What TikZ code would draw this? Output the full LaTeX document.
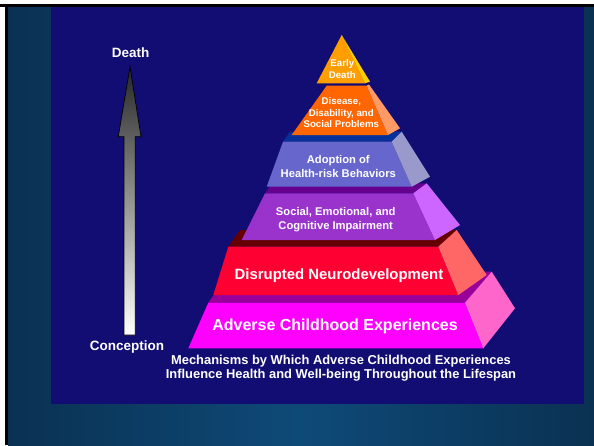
\documentclass[tikz,border=0pt]{standalone}
\usepackage{fontspec}
\setmainfont{Liberation Sans}
\definecolor{tealA}{HTML}{0A3152}
\definecolor{tealB}{HTML}{0E4A78}
\definecolor{navybg}{HTML}{120D72}
\definecolor{edF}{HTML}{FF9E00}
\definecolor{edS}{HTML}{FFCC00}
\definecolor{diF}{HTML}{FF6600}
\definecolor{diS}{HTML}{FF9966}
\definecolor{adT}{HTML}{08309A}
\definecolor{adF}{HTML}{6666CC}
\definecolor{adS}{HTML}{9999CC}
\definecolor{soT}{HTML}{66008F}
\definecolor{soF}{HTML}{9933CC}
\definecolor{soS}{HTML}{CC66FF}
\definecolor{drT}{HTML}{660000}
\definecolor{drF}{HTML}{FF0033}
\definecolor{drS}{HTML}{FF6666}
\definecolor{acT}{HTML}{990099}
\definecolor{acF}{HTML}{FF00FF}
\definecolor{acS}{HTML}{FF66CC}
\begin{document}
\begin{tikzpicture}[x=1pt,y=-1pt,
  txt/.style={text=white,font=\bfseries,align=center,inner sep=0pt}]
\useasboundingbox (0,0) rectangle (594,445);
\fill[white] (0,0) rectangle (594,445);
\shade[left color=tealA,right color=tealA,middle color=tealB] (8,7) rectangle (594,445);
\fill[black] (0,4) rectangle (594,7);
\fill[black] (5,4) rectangle (8,445);
\fill[navybg] (51,7) rectangle (584,404);

% arrow
\shade[top color=black!85, bottom color=white, draw=black, line width=0.7pt]
  (124,335) -- (124,136.7) -- (118.3,136.7) -- (130,66.7) -- (141,136.7)
  -- (135.3,136.7) -- (135.3,335) -- cycle;
\node[txt,font=\bfseries\fontsize{13.5}{15}\selectfont] (death) at (130.7,52.3) {Death};
\node[txt,font=\bfseries\fontsize{13.5}{15}\selectfont] (conc) at (127,346.7) {Conception};

% tier 6: Adverse Childhood Experiences
\fill[acT] (208.3,302.7) -- (465,302.7) -- (491.7,271.7) -- (230,271.7) -- cycle;
\fill[acF] (188.3,348.3) -- (483.3,348.3) -- (465,302.7) -- (208.3,302.7) -- cycle;
\fill[acS] (483.3,348.3) -- (515,308.3) -- (491.7,271.7) -- (465,302.7) -- cycle;
% tier 5: Disrupted Neurodevelopment
\fill[drT] (228.3,246.7) -- (438.3,246.7) -- (456.7,230) -- (240,230) -- cycle;
\fill[drF] (213.3,295) -- (458.3,295) -- (438.3,246.7) -- (228.3,246.7) -- cycle;
\fill[drS] (458.3,295) -- (486.7,275) -- (456.7,230) -- (438.3,246.7) -- cycle;
% tier 4: Social
\fill[soT] (265,193.3) -- (413.3,193.3) -- (426.7,183.3) -- (272,183.3) -- cycle;
\fill[soF] (241.7,240) -- (435,240) -- (413.3,193.3) -- (265,193.3) -- cycle;
\fill[soS] (435,240) -- (460,225) -- (426.7,183.3) -- (413.3,193.3) -- cycle;
% tier 3: Adoption
\fill[adT] (283,141.7) -- (391.7,141.7) -- (401.7,131.7) -- (290,131.7) -- cycle;
\fill[adF] (266.7,186.7) -- (411.7,186.7) -- (391.7,141.7) -- (283,141.7) -- cycle;
\fill[adS] (411.7,186.7) -- (430,176.7) -- (401.7,131.7) -- (391.7,141.7) -- cycle;
% tier 2: Disease
\fill[diF] (291.7,135) -- (388,135) -- (366.7,85.7) -- (326.7,85.7) -- cycle;
\fill[diS] (388,135) -- (400,128.3) -- (369,84.5) -- (366.7,85.7) -- cycle;
% tier 1: Early Death
\fill[edF] (316.7,83.3) -- (365,83.3) -- (341.7,35) -- cycle;
\fill[edS] (365,83.3) -- (370,81.7) -- (341.7,35) -- cycle;

\node[txt,font=\bfseries\fontsize{9.7}{11.7}\selectfont] (early) at (342.3,69.2) {Early\\Death};
\node[txt,font=\bfseries\fontsize{9.7}{11.3}\selectfont] (disease) at (341.3,112.8) {Disease,\\Disability, and\\Social Problems};
\node[txt,font=\bfseries\fontsize{11.2}{14}\selectfont] (adopt) at (338.3,166.3) {Adoption of\\Health-risk Behaviors};
\node[txt,font=\bfseries\fontsize{11.2}{14}\selectfont] (social) at (335.7,219.7) {Social, Emotional, and\\Cognitive Impairment};
\node[txt,font=\bfseries\fontsize{14.9}{16}\selectfont] (neuro) at (339,275.7) {Disrupted Neurodevelopment};
\node[txt,font=\bfseries\fontsize{16}{18}\selectfont] (ace) at (335,326.7) {Adverse Childhood Experiences};
\node[txt,font=\bfseries\fontsize{12.9}{14.3}\selectfont] (caption) at (341,367.9) {Mechanisms by Which Adverse Childhood Experiences\\Influence Health and Well-being Throughout the Lifespan};
\end{tikzpicture}
\end{document}
